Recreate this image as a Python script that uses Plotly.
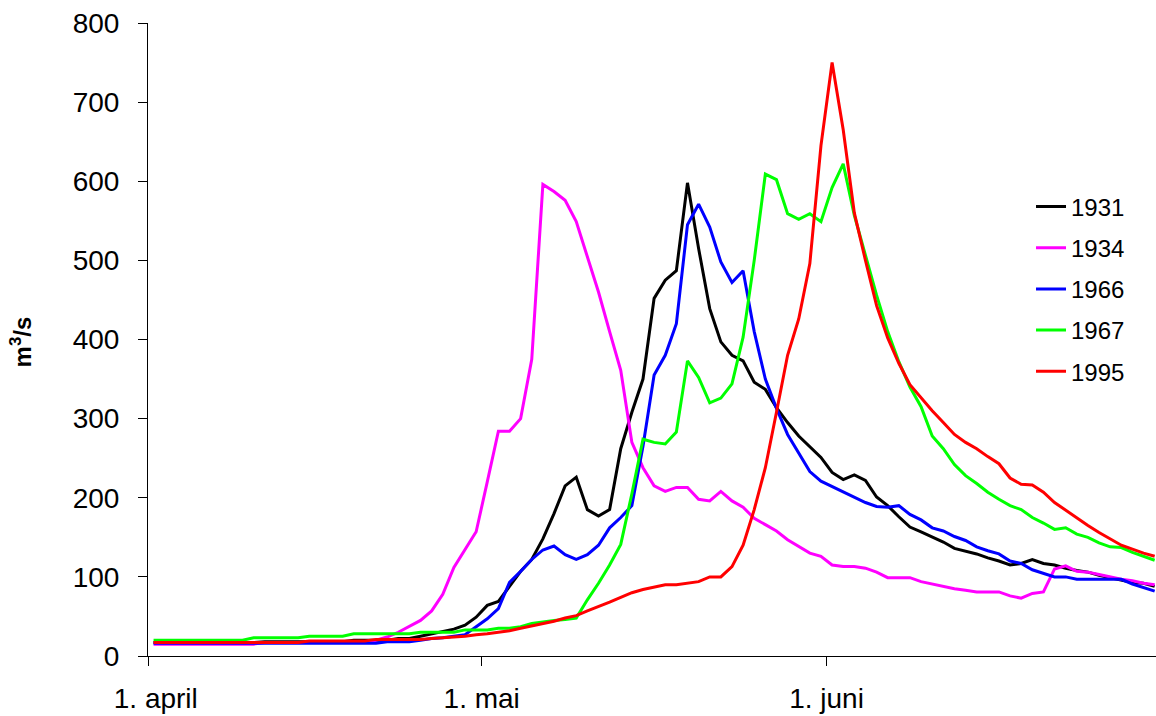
import plotly.graph_objects as go

# Day index 0 = 1. april ... 90 = 30. juni
days = list(range(91))

tick_days = [0, 30, 61]
tick_labels = ["\u00a0\u00a01. april", "1. mai", "1. juni"]

years = ["1931", "1934", "1966", "1967", "1995"]
colors = ["#000000", "#FF00FF", "#0000FF", "#00FF00", "#FF0000"]

q1931 = [17, 17, 17, 17, 17, 17, 17, 17, 17, 17,
         18, 18, 18, 18, 18, 18, 18, 18, 20, 20,
         20, 20, 22, 22, 25, 28, 31, 34, 39, 49,
         64, 69, 88, 107, 122, 148, 180, 215, 226, 185,
         177, 185, 262, 308, 350, 452, 475, 487, 598, 515,
         439, 397, 380, 373, 346, 337, 314, 295, 278, 265,
         251, 232, 223, 229, 222, 201, 190, 176, 163, 157,
         151, 144, 136, 132, 129, 124, 120, 115, 117, 122,
         117, 115, 111, 108, 106, 102, 99, 96, 93, 92,
         88]

q1934 = [15, 15, 15, 15, 15, 15, 15, 15, 15, 15,
         17, 17, 17, 17, 17, 17, 17, 17, 17, 17,
         20, 24, 30, 38, 45, 57, 78, 112, 135, 157,
         220, 284, 284, 300, 375, 596, 587, 576, 549, 506,
         460, 410, 361, 270, 238, 215, 208, 213, 213, 198,
         196, 208, 196, 188, 174, 166, 158, 147, 138, 130,
         126, 115, 113, 113, 111, 106, 99, 99, 99, 94,
         91, 88, 85, 83, 81, 81, 81, 76, 73, 79,
         81, 110, 114, 107, 106, 103, 100, 97, 95, 92,
         90]

q1966 = [16, 16, 16, 16, 16, 16, 16, 16, 16, 16,
         16, 16, 16, 16, 16, 16, 16, 16, 16, 16,
         16, 18, 18, 18, 20, 22, 23, 25, 27, 37,
         47, 60, 93, 107, 122, 134, 139, 128, 122, 128,
         140, 162, 175, 190, 265, 355, 380, 420, 545, 571,
         542, 498, 472, 487, 410, 350, 313, 280, 256, 233,
         221, 214, 208, 200, 194, 189, 188, 190, 179, 172,
         162, 158, 151, 146, 138, 133, 129, 120, 117, 109,
         104, 100, 100, 97, 97, 97, 97, 97, 91, 86,
         82]

q1967 = [20, 20, 20, 20, 20, 20, 20, 20, 20, 23,
         23, 23, 23, 23, 25, 25, 25, 25, 28, 28,
         28, 28, 28, 28, 30, 30, 30, 30, 33, 33,
         33, 35, 35, 37, 41, 43, 45, 46, 48, 71,
         92, 115, 141, 205, 274, 270, 268, 283, 373, 352,
         320, 326, 344, 403, 500, 609, 602, 559, 552, 559,
         549, 592, 622, 557, 505, 456, 410, 372, 340, 315,
         278, 262, 242, 228, 218, 207, 198, 190, 185, 175,
         168, 160, 162, 154, 150, 143, 138, 137, 131, 126,
         121]

q1995 = [17, 17, 17, 17, 17, 17, 17, 17, 17, 17,
         17, 17, 17, 17, 19, 19, 19, 19, 19, 19,
         21, 21, 21, 21, 21, 22, 23, 24, 25, 27,
         28, 30, 32, 35, 38, 41, 44, 48, 51, 57,
         62, 68, 74, 80, 84, 87, 90, 90, 92, 94,
         100, 100, 113, 140, 185, 238, 308, 380, 426, 496,
         645, 750, 665, 560, 500, 443, 402, 370, 343, 326,
         310, 295, 280, 270, 262, 252, 243, 225, 217, 216,
         207, 194, 184, 175, 165, 156, 148, 140, 135, 130,
         126]

series = [q1931, q1934, q1966, q1967, q1995]

FONT = "Liberation Sans, Arial, sans-serif"

fig = go.Figure()
for name, col, vals in zip(years, colors, series):
    fig.add_trace(go.Scatter(
        x=[d + 0.5 for d in days], y=vals, mode="lines", name=name,
        legendgroup=name,
        line=dict(color=col, width=3),
    ))

fig.update_layout(
    width=1156, height=716,
    margin=dict(l=148, r=0, t=23, b=60, autoexpand=False),
    paper_bgcolor="white", plot_bgcolor="white",
    font=dict(family=FONT, color="black", size=28),
    showlegend=True,
    legend=dict(
        x=0.876, y=0.745, xanchor="left", yanchor="top",
        font=dict(size=24, family=FONT, color="black"),
        traceorder="grouped", tracegroupgap=7,
        bgcolor="rgba(0,0,0,0)",
    ),
    xaxis=dict(
        range=[0, 90.62], tickmode="array", tickvals=tick_days, ticktext=tick_labels,
        showline=True, linecolor="black", linewidth=1,
        ticks="outside", ticklen=9, tickcolor="black", tickwidth=1,
        showgrid=False, zeroline=False, ticklabelstandoff=8,
        tickfont=dict(size=28, family=FONT), automargin=False,
    ),
    yaxis=dict(
        range=[0, 800], dtick=100, tick0=0,
        showline=True, linecolor="black", linewidth=1,
        ticks="outside", ticklen=9, tickcolor="black", tickwidth=1,
        showgrid=False, zeroline=False, ticklabelstandoff=13,
        tickfont=dict(size=28, family=FONT), automargin=False,
    ),
    annotations=[dict(
        text="<b>m<sup>3</sup>/s</b>", textangle=-90, showarrow=False,
        xref="paper", yref="paper", x=-0.126, y=0.497,
        xanchor="center", yanchor="middle",
        font=dict(size=24, family=FONT, color="black"),
    )],
)

fig.write_html(
    "out.html",
    config={"displayModeBar": False},
    post_script="document.body.style.margin='0';document.body.style.overflow='hidden';",
)
